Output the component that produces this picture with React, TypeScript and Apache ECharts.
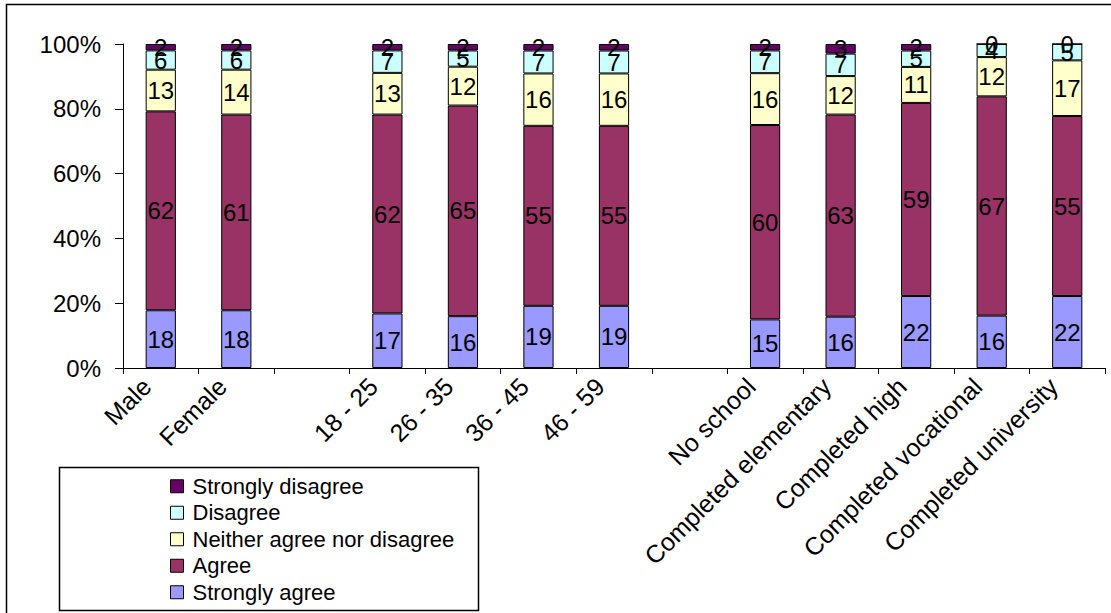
import React, { useEffect, useRef } from "react";
import * as echarts from "echarts";

const categories = [
  "Male",
  "Female",
  " ",
  "18 - 25",
  "26 - 35",
  "36 - 45",
  "46 - 59",
  "  ",
  "No school",
  "Completed elementary",
  "Completed high",
  "Completed vocational",
  "Completed university",
];

const stronglyAgree = [18, 18, null, 17, 16, 19, 19, null, 15, 16, 22, 16, 22];
const agree = [62, 61, null, 62, 65, 55, 55, null, 60, 63, 59, 67, 55];
const neither = [13, 14, null, 13, 12, 16, 16, null, 16, 12, 11, 12, 17];
const disagree = [6, 6, null, 7, 5, 7, 7, null, 7, 7, 5, 4, 5];
const stronglyDisagree = [2, 2, null, 2, 2, 2, 2, null, 2, 3, 2, 0, 0];

const yTicks = [0, 20, 40, 60, 80, 100];

const seriesDefs = [
  { name: "Strongly agree", values: stronglyAgree, color: "#9999FF" },
  { name: "Agree", values: agree, color: "#993366" },
  { name: "Neither agree nor disagree", values: neither, color: "#FFFFCC" },
  { name: "Disagree", values: disagree, color: "#CCFFFF" },
  { name: "Strongly disagree", values: stronglyDisagree, color: "#660066" },
];

const legendOrder = [
  "Strongly disagree",
  "Disagree",
  "Neither agree nor disagree",
  "Agree",
  "Strongly agree",
];

const FONT = '"Liberation Sans", Arial, sans-serif';

export default function App() {
  const ref = useRef<HTMLDivElement>(null);

  useEffect(() => {
    if (!ref.current) return;
    const chart = echarts.init(ref.current, null, { renderer: "svg" });

    const totals = categories.map((_, i) =>
      seriesDefs.reduce((s, d) => s + (d.values[i] ?? 0), 0)
    );

    const series = seriesDefs.map((d) => ({
      name: d.name,
      type: "bar",
      stack: "total",
      barWidth: "40%",
      clip: false,
      data: d.values.map((v, i) =>
        v === null ? null : (v / totals[i]) * 100
      ),
      itemStyle: { color: d.color, borderColor: "#000", borderWidth: 1 },
      label: {
        show: true,
        position: "inside",
        fontFamily: FONT,
        fontSize: 24,
        color: "#000",
        formatter: (p: any) => String(d.values[p.dataIndex]),
      },
      emphasis: { disabled: true },
    }));

    chart.setOption({
      animation: false,
      backgroundColor: "#fff",
      textStyle: { fontFamily: FONT },
      grid: { left: 123, top: 44, width: 982, height: 324 },
      legend: {
        data: legendOrder,
        orient: "vertical",
        left: 165,
        top: 470,
        itemWidth: 13,
        itemHeight: 13,
        itemGap: 4,
        selectedMode: false,
        icon: "rect",
        itemStyle: { borderColor: "#000", borderWidth: 1 },
        textStyle: {
          fontFamily: FONT,
          fontSize: 22,
          color: "#000",
          lineHeight: 22.5,
          padding: [0, 0, 0, 4],
        },
      },
      xAxis: {
        type: "category",
        data: categories,
        axisLine: { show: true, lineStyle: { color: "#000", width: 1 } },
        axisTick: { show: true, length: 6, lineStyle: { color: "#000" } },
        axisLabel: {
          rotate: 45,
          interval: 0,
          margin: 0,
          padding: [0, 20, 0, 0],
          fontFamily: FONT,
          fontSize: 25,
          color: "#000",
        },
        splitLine: { show: false },
      },
      yAxis: {
        type: "value",
        min: 0,
        max: 100,
        interval: 20,
        axisLine: { show: true, lineStyle: { color: "#000", width: 1 } },
        axisTick: { show: true, inside: false, length: 8, lineStyle: { color: "#000" } },
        axisLabel: {
          margin: 22,
          fontFamily: FONT,
          fontSize: 24,
          color: "#000",
          formatter: (v: number) => (yTicks.includes(v) ? `${v}%` : ""),
        },
        splitLine: { show: false },
      },
      graphic: [
        {
          type: "rect",
          shape: { x: 6.5, y: 4.5, width: 1130, height: 640 },
          style: { fill: "none", stroke: "#000", lineWidth: 1.5 },
          silent: true,
          z: 100,
        },
        {
          type: "rect",
          shape: { x: 59.5, y: 467.5, width: 419, height: 143 },
          style: { fill: "#fff", stroke: "#000", lineWidth: 1.5 },
          silent: true,
          z: -1,
        },
      ],
      series,
    });

    return () => chart.dispose();
  }, []);

  return (
    <div
      ref={ref}
      style={{ position: "absolute", left: 0, top: 0, width: 1111, height: 613 }}
    />
  );
}
